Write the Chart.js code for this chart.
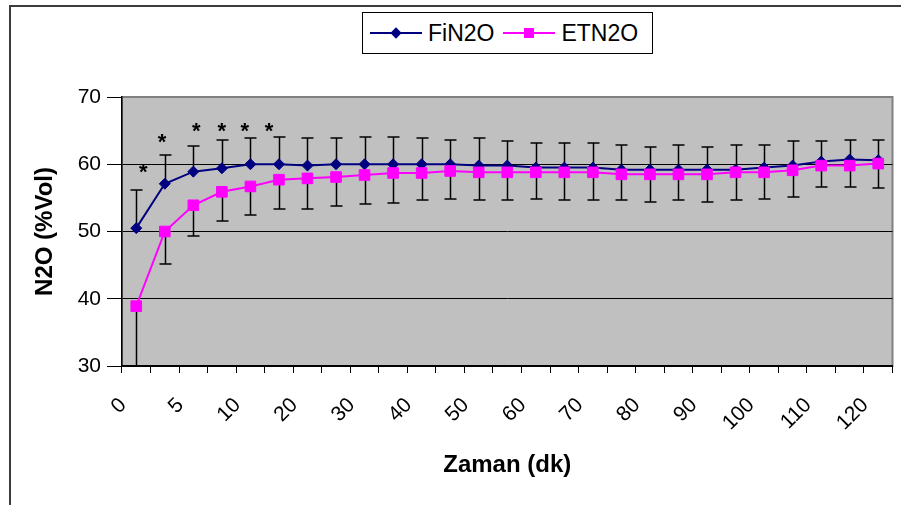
<!DOCTYPE html>
<html>
<head>
<meta charset="utf-8">
<script src="https://cdn.jsdelivr.net/npm/chart.js@4.4.1/dist/chart.umd.min.js"></script>
<style>
    body { margin: 0; background: #fff; font-family: "Liberation Sans", Arial, sans-serif; }
    #wrap { position: relative; width: 901px; height: 505px; overflow: hidden; }
    #frame { position: absolute; left: 9px; top: 5px; width: 900px; height: 600px; border-left: 2px solid #3c3c3c; border-top: 2px solid #3c3c3c; }
    #chart { position: absolute; left: 0; top: 0; }
    #legend { position: absolute; left: 362px; top: 12px; width: 289px; height: 40px; border: 1px solid #000; background: #fff;
              display: flex; align-items: center; font-size: 23px; color: #000; }
    .item { display: flex; align-items: center; }
    .line { position: relative; width: 52px; height: 2px; margin: 0 6px 0 7px; }
    .mark { position: absolute; left: 50%; top: 50%; }
    .diamond { width: 8px; height: 8px; margin: -4px 0 0 -4px; transform: rotate(45deg); }
    .square { width: 10px; height: 10px; margin: -5px 0 0 -5px; }
</style>
</head>
<body>
<div id="wrap">
    <div id="frame"></div>
    <canvas id="chart" width="901" height="505"></canvas>
    <div id="legend">
        <div class="item">
            <span class="line" style="background:#000080"><span class="mark diamond" style="background:#000080"></span></span>
            <span>FiN2O</span>
        </div>
        <div class="item" style="margin-left:2px">
            <span class="line" style="background:#ff00ff"><span class="mark square" style="background:#ff00ff"></span></span>
            <span>ETN2O</span>
        </div>
    </div>
</div>
<script>
// Time points (minutes); only every other one gets a label on the axis
const categories = ['0', '2.5', '5', '7.5', '10', '15', '20', '25', '30', '35', '40', '45', '50', '55',
    '60', '65', '70', '75', '80', '85', '90', '95', '100', '105', '110', '115', '120'];

// FiN2O mean and upper error
const fiValues = [50.5, 57.1, 58.9, 59.4, 60.0, 60.0, 59.8, 60.0, 60.0, 60.0, 60.0, 60.0, 59.8, 59.8,
    59.5, 59.5, 59.5, 59.2, 59.2, 59.2, 59.2, 59.2, 59.5, 59.8, 60.4, 60.7, 60.6];
const fiErrPlus = [5.7, 4.3, 3.8, 4.2, 3.9, 4.1, 4.1, 3.9, 4.1, 4.1, 3.9, 3.6, 4.1, 3.6,
    3.6, 3.6, 3.6, 3.6, 3.3, 3.6, 3.3, 3.6, 3.3, 3.6, 3.0, 2.9, 3.0];

// ETN2O mean and lower error
const etValues = [38.9, 50.0, 53.9, 55.9, 56.7, 57.7, 57.9, 58.1, 58.4, 58.7, 58.7, 59.0, 58.8, 58.8,
    58.8, 58.8, 58.8, 58.5, 58.5, 58.5, 58.5, 58.8, 58.8, 59.1, 59.8, 59.8, 60.1];
const etErrMinus = [8.9, 4.8, 4.6, 4.3, 4.2, 4.4, 4.6, 4.3, 4.3, 4.5, 4.0, 4.1, 4.1, 4.1,
    3.9, 4.1, 4.1, 3.8, 4.1, 3.8, 4.1, 4.1, 3.9, 3.9, 3.2, 3.2, 3.7];

// Significance marks: position in category units and height in %Vol
const starCat = [0.25, 0.9, 2.1, 3.0, 3.8, 4.65];
const starLevel = [59.4, 63.9, 65.5, 65.5, 65.5, 65.5];

const yTicks = [30, 40, 50, 60, 70];

const font = '"Liberation Sans", Arial, sans-serif';

// Gray plot area with a gray frame
const plotBg = {
    id: 'plotBg',
    beforeDraw(chart) {
        const { ctx, chartArea: a } = chart;
        ctx.save();
        ctx.fillStyle = '#c0c0c0';
        ctx.fillRect(a.left, a.top, a.right - a.left, a.bottom - a.top);
        ctx.strokeStyle = '#808080';
        ctx.lineWidth = 2;
        ctx.strokeRect(a.left, a.top, a.right - a.left, a.bottom - a.top);
        ctx.restore();
    }
};

// Error bars: up for FiN2O, down for ETN2O
const errorBars = {
    id: 'errorBars',
    beforeDatasetsDraw(chart) {
        const { ctx, chartArea: a, scales: { x, y } } = chart;
        ctx.save();
        ctx.beginPath();
        ctx.rect(a.left, a.top - 20, a.right - a.left, a.bottom - a.top + 22);
        ctx.clip();
        ctx.strokeStyle = '#000';
        ctx.lineWidth = 1.5;
        const draw = (vals, errs, dir) => {
            vals.forEach((v, i) => {
                const px = Math.round(x.getPixelForValue(i)) + 0.5;
                const y0 = y.getPixelForValue(v);
                const y1 = Math.round(y.getPixelForValue(v + dir * errs[i]));
                ctx.beginPath();
                ctx.moveTo(px, y0);
                ctx.lineTo(px, y1);
                ctx.moveTo(px - 6, y1);
                ctx.lineTo(px + 6, y1);
                ctx.stroke();
            });
        };
        draw(fiValues, fiErrPlus, 1);
        draw(etValues, etErrMinus, -1);
        ctx.restore();
    }
};

// Asterisks above the early time points
const stars = {
    id: 'stars',
    afterDatasetsDraw(chart) {
        const { ctx, scales: { x, y } } = chart;
        const x0 = x.getPixelForValue(0);
        const step = x.getPixelForValue(1) - x0;
        ctx.save();
        ctx.fillStyle = '#000';
        ctx.font = 'bold 22px ' + font;
        ctx.textAlign = 'center';
        ctx.textBaseline = 'middle';
        starCat.forEach((c, k) => {
            ctx.fillText('*', x0 + c * step, y.getPixelForValue(starLevel[k]) + 5);
        });
        ctx.restore();
    }
};

const ctx = document.getElementById('chart').getContext('2d');
const n2oChart = new Chart(ctx, {
    type: 'line',
    data: {
        labels: categories,
        datasets: [{
            label: 'FiN2O',
            data: fiValues,
            borderColor: '#000080',
            backgroundColor: '#000080',
            borderWidth: 2,
            pointStyle: 'rectRot',
            pointRadius: 5.5,
            pointBorderWidth: 1,
            tension: 0,
            order: 1
        }, {
            label: 'ETN2O',
            data: etValues,
            borderColor: '#ff00ff',
            backgroundColor: '#ff00ff',
            borderWidth: 2,
            pointStyle: 'rect',
            pointRadius: 7.5,
            pointBorderWidth: 1,
            tension: 0,
            order: 0
        }]
    },
    options: {
        responsive: false,
        animation: false,
        devicePixelRatio: 1,
        layout: {
            padding: { top: 97, right: 8, left: 0, bottom: 0 }
        },
        plugins: {
            legend: { display: false },
            tooltip: { enabled: false }
        },
        scales: {
            x: {
                offset: true,
                grid: {
                    offset: true,
                    drawOnChartArea: false,
                    tickLength: 7,
                    color: '#000',
                    lineWidth: 1
                },
                border: { color: '#000', width: 1.5 },
                ticks: {
                    autoSkip: false,
                    minRotation: 45,
                    maxRotation: 45,
                    padding: 20,
                    labelOffset: -13,
                    color: '#000',
                    font: { family: font, size: 21 },
                    callback: (v, i) => (i % 2 === 0 ? categories[i] : '')
                },
                title: {
                    display: true,
                    text: 'Zaman (dk)',
                    color: '#000',
                    font: { family: font, size: 24, weight: 'bold' },
                    padding: { top: 0, bottom: 25 }
                },
                afterFit: (s) => {
                    s.height = 139;
                    // rotated labels would otherwise shrink the plot on the right
                    s.paddingLeft = 0;
                    s.paddingRight = 0;
                }
            },
            y: {
                min: 30,
                max: 70,
                afterBuildTicks: (s) => { s.ticks = yTicks.map(v => ({ value: v })); },
                grid: {
                    color: (c) => (c.tick && c.tick.value === 70 ? '#808080' : '#000'),
                    lineWidth: 1,
                    tickLength: 15,
                    tickColor: '#000'
                },
                border: { color: '#000', width: 1.5 },
                ticks: {
                    padding: 6,
                    color: '#000',
                    font: { family: font, size: 21 }
                },
                title: {
                    display: true,
                    text: 'N2O (%Vol)',
                    color: '#000',
                    font: { family: font, size: 24, weight: 'bold' },
                    padding: { top: 31, bottom: 0 }
                },
                afterFit: (s) => { s.width = 122; }
            }
        }
    },
    plugins: [plotBg, errorBars, stars]
});
</script>
</body>
</html>
